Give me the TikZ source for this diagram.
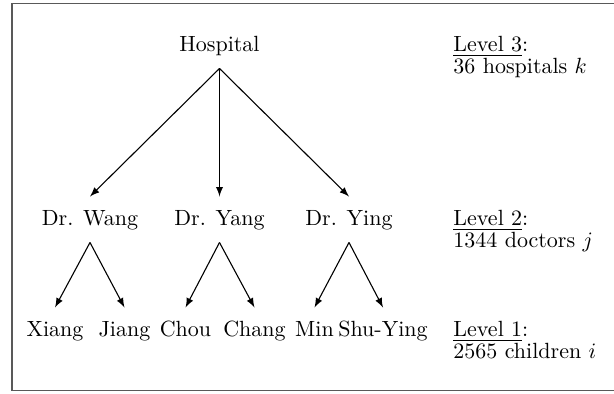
\documentclass[tikz,border=0pt]{standalone}
\usepackage{amsmath}
\usepackage{amsfonts}
\usepackage{tikz}

\begin{document}
\begin{tikzpicture}[x=0.4545pt, y=-0.4545pt,
    person/.style={anchor=base, text height=7.9pt, text depth=2pt, inner xsep=2pt, inner ysep=5.3pt},
    levelnote/.style={anchor=base west, inner sep=0pt, align=left, font=\fontsize{10pt}{10pt}\selectfont}]
    \useasboundingbox (0,0) rectangle (614,394);
    \draw[black!65, line width=0.6pt] (614,3.5) -- (12,3.5) -- (12,390.5) -- (614,390.5);

    \node at (219.5,52) [person] (Hospital) {Hospital};

    \node at (90,226) [person] (Wang) {Dr. Wang};
    \node at (219.5,226) [person] (Yang) {Dr. Yang};
    \node at (349,226) [person] (Ying) {Dr. Ying};

    \node at (55,337) [person] (Xiang) {Xiang};
    \node at (124.5,337) [person] (Jiang) {Jiang};
    \node at (185.5,337) [person] (Chou) {Chou};
    \node at (254.5,337) [person] (Chang) {Chang};
    \node at (314.5,337) [person] (Min) {Min};
    \node at (383,337) [person] (ShuYing) {Shu-Ying};

    \node at (453,74) [levelnote] (Level3) {\underline{Level 3}:\\36 hospitals $k$};
    \node at (453,248) [levelnote] (Level2) {\underline{Level 2}:\\1344 doctors $j$};
    \node at (453,359) [levelnote] (Level1) {\underline{Level 1}:\\2565 children $i$};

    \draw[-latex, line width=0.5pt] (Hospital.south) -- (Wang.north);
    \draw[-latex, line width=0.5pt] (Hospital.south) -- (Yang.north);
    \draw[-latex, line width=0.5pt] (Hospital.south) -- (Ying.north);

    \draw[-latex, line width=0.5pt] (Wang.south) -- (Xiang.north);
    \draw[-latex, line width=0.5pt] (Wang.south) -- (Jiang.north);
    \draw[-latex, line width=0.5pt] (Yang.south) -- (Chou.north);
    \draw[-latex, line width=0.5pt] (Yang.south) -- (Chang.north);
    \draw[-latex, line width=0.5pt] (Ying.south) -- (Min.north);
    \draw[-latex, line width=0.5pt] (Ying.south) -- (ShuYing.north);
\end{tikzpicture}
\end{document}
